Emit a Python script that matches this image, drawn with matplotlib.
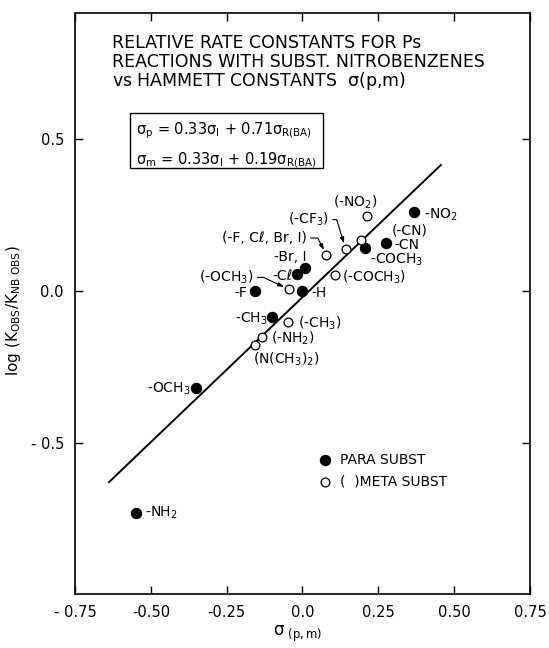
import numpy as np
import matplotlib.pyplot as plt
from matplotlib.patches import Rectangle

plt.rcParams['font.family'] = 'DejaVu Sans'
plt.rcParams['mathtext.default'] = 'regular'

# para substituents (filled circles)
para_names = ['-NH$_2$', '-OCH$_3$', '-CH$_3$', '-F', '-H', '-C\u2113',
              '-Br, I', '-COCH$_3$', '-CN', '-NO$_2$']
para_x = [-0.55, -0.35, -0.10, -0.155, 0.0, -0.017, 0.008, 0.206, 0.274, 0.368]
para_y = [-0.73, -0.32, -0.085, 0.0, 0.0, 0.057, 0.074, 0.142, 0.156, 0.258]

# meta substituents (open circles)
meta_names = ['(N(CH$_3$)$_2$)', '(-NH$_2$)', '(-CH$_3$)', '(-OCH$_3$)',
              '(-COCH$_3$)', '(-F, C\u2113, Br, I)', '(-CF$_3$)', '(-CN)', '(-NO$_2$)']
meta_x = [-0.155, -0.132, -0.047, -0.044, 0.107, 0.079, 0.142, 0.193, 0.214]
meta_y = [-0.179, -0.150, -0.101, 0.005, 0.052, 0.118, 0.139, 0.166, 0.247]

# correlation line end points
line_x = [-0.638, 0.456]
line_y = [-0.629, 0.414]

x_ticks = [-0.75, -0.5, -0.25, 0.0, 0.25, 0.5, 0.75]
x_ticklabels = ['- 0.75', '-0.50', '-0.25', '0.0', '0.25', '0.50', '0.75']
y_ticks = [0.5, 0.0, -0.5]
y_ticklabels = ['0.5', '0.0', '- 0.5']

title_lines = ['RELATIVE RATE CONSTANTS FOR Ps',
               'REACTIONS WITH SUBST. NITROBENZENES',
               'vs HAMMETT CONSTANTS  $\\sigma$(p,m)']
eq_lines = ['$\\sigma_p$ = 0.33$\\sigma_I$ + 0.71$\\sigma_{R(BA)}$',
            '$\\sigma_m$ = 0.33$\\sigma_I$ + 0.19$\\sigma_{R(BA)}$']

# label placement (offset in pixels, alignment, arrow angle)
para_layout = [(9, 0, 'left'), (-6, -1, 'right'), (-5, -2, 'right'), (-8, -2, 'right'),
               (9, -2, 'left'), (-5, -2, 'right'), (2, 11, 'right'), (5, -12, 'left'),
               (9, -2, 'left'), (10, -2, 'left')]
meta_layout = [(-2, -14, 'left', None), (9, -2, 'left', None), (10, -2, 'left', None),
               (-36, 12, 'right', 155), (7, -2, 'left', None), (-20, 17, 'right', 117),
               (-17, 29, 'right', 107), (31, 10, 'left', None), (-12, 13, 'center', None)]

fig = plt.figure(figsize=(5.49, 6.48), dpi=100)
ax = fig.add_axes([0.1366, 0.0833, 0.8288, 0.8971])

ax.plot(line_x, line_y, color='black', lw=1.4)
para = ax.scatter(para_x, para_y, s=52, color='black', zorder=3, label='PARA SUBST')
meta = ax.scatter(meta_x, meta_y, s=40, facecolor='white', edgecolor='black',
                  linewidth=0.9, zorder=3, label='(  )META SUBST')

for name, x, y, (dx, dy, ha) in zip(para_names, para_x, para_y, para_layout):
    ax.annotate(name, (x, y), xytext=(dx, dy), textcoords='offset pixels',
                ha=ha, va='center', fontsize=10)

for name, x, y, (dx, dy, ha, ang) in zip(meta_names, meta_x, meta_y, meta_layout):
    props = None
    if ang is not None:
        props = dict(arrowstyle='-|>,head_length=0.35,head_width=0.12', lw=0.8,
                     color='black', shrinkA=1, shrinkB=4,
                     connectionstyle='angle,angleA=0,angleB=%d,rad=0' % ang)
    ax.annotate(name, (x, y), xytext=(dx, dy), textcoords='offset pixels',
                ha=ha, va='center', fontsize=10, arrowprops=props)

# title block
for i, t in enumerate(title_lines):
    ax.text(0.081, 0.948 - i * 0.0327, t, transform=ax.transAxes,
            fontsize=12.5, ha='left', va='center')

# equation box
ax.add_patch(Rectangle((0.121, 0.733), 0.424, 0.0946, transform=ax.transAxes,
                       fill=False, lw=1.0, color='black'))
ax.text(0.133, 0.797, eq_lines[0], transform=ax.transAxes, fontsize=10.5, va='center')
ax.text(0.133, 0.747, eq_lines[1], transform=ax.transAxes, fontsize=10.5, va='center')

ax.legend(handles=[para, meta], loc='upper left', bbox_to_anchor=(0.534, 0.243),
          frameon=False, fontsize=10, handlelength=1.0, handletextpad=0.6,
          borderpad=0, borderaxespad=0, labelspacing=0.55)

ax.set_xlim(-0.75, 0.75)
ax.set_ylim(-0.997, 0.915)
ax.set_xticks(x_ticks)
ax.set_xticklabels(x_ticklabels, fontsize=10.5)
ax.set_yticks(y_ticks)
ax.set_yticklabels(y_ticklabels, fontsize=10.5)
ax.tick_params(direction='in', length=6, width=1, top=True, right=True, pad=8)
for s in ax.spines.values():
    s.set_linewidth(1.2)

ax.set_ylabel('log (K$_{OBS}$/K$_{NB\\ OBS}$)', fontsize=11)
ax.yaxis.set_label_coords(-0.114, 0.487)
ax.set_xlabel('$\\sigma_{\\ (p,m)}$', fontsize=12)
ax.xaxis.set_label_coords(0.49, -0.052)

fig.savefig('out.png', dpi=100)
